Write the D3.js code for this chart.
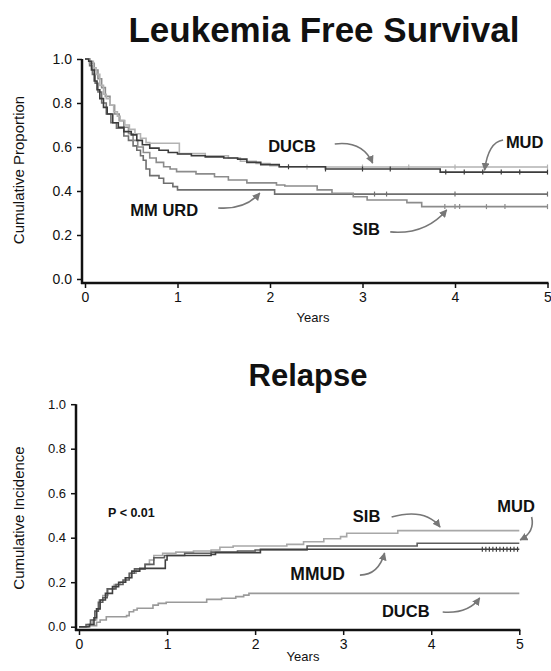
<!DOCTYPE html>
<html>
<head>
<meta charset="utf-8">
<script src="https://cdn.jsdelivr.net/npm/d3@7"></script>
<style>
    body { margin: 0; background: #fff; }
    svg text { font-family: "Liberation Sans", Arial, sans-serif; fill: #111; }
</style>
</head>
<body>
<div id="chart"></div>
<script>
//Datos - Leukemia Free Survival (años, proporción)
const lfsDUCB = [[0,1],[0.05,0.99],[0.09,0.96],[0.12,0.93],[0.16,0.88],[0.2,0.84],[0.23,0.82],[0.27,0.79],[0.31,0.76],[0.35,0.74],[0.38,0.72],[0.43,0.70],[0.48,0.68],[0.54,0.66],[0.6,0.64],[0.66,0.62],[0.7,0.617],[1.02,0.57],[1.3,0.56],[1.55,0.55],[1.68,0.535],[1.85,0.525],[2.0,0.515],[2.1,0.509]];
const lfsMUD = [[0,1],[0.04,0.99],[0.07,0.95],[0.1,0.9],[0.13,0.86],[0.16,0.82],[0.2,0.78],[0.24,0.75],[0.3,0.71],[0.36,0.69],[0.42,0.67],[0.5,0.655],[0.56,0.63],[0.62,0.61],[0.7,0.595],[0.8,0.585],[0.9,0.575],[1.0,0.568],[1.15,0.56],[1.3,0.555],[1.5,0.55],[1.65,0.545],[1.75,0.53],[1.9,0.52],[2.1,0.51],[2.6,0.5],[3.84,0.486]];
const lfsSIB = [[0,1],[0.05,0.98],[0.1,0.95],[0.14,0.91],[0.18,0.87],[0.22,0.83],[0.27,0.79],[0.32,0.75],[0.37,0.72],[0.42,0.69],[0.47,0.66],[0.52,0.63],[0.57,0.6],[0.63,0.575],[0.7,0.55],[0.77,0.53],[0.85,0.51],[0.92,0.5],[0.99,0.488],[1.2,0.478],[1.4,0.465],[1.55,0.45],[1.75,0.437],[2.07,0.427],[2.16,0.423],[2.51,0.405],[2.67,0.39],[2.9,0.374],[3.05,0.359],[3.48,0.347],[3.64,0.329]];
const lfsMMURD = [[0,1],[0.05,0.97],[0.08,0.93],[0.11,0.89],[0.14,0.85],[0.18,0.8],[0.23,0.75],[0.28,0.71],[0.34,0.685],[0.42,0.65],[0.47,0.63],[0.52,0.605],[0.56,0.585],[0.6,0.56],[0.63,0.54],[0.66,0.5],[0.7,0.47],[0.8,0.458],[0.85,0.435],[0.95,0.42],[1.0,0.405],[2.05,0.386]];

//Censuras
const lfsCensDUCB = [2.4, 3.0, 3.5, 4.0, 5.0];
const lfsCensMUD = [2.2, 2.6, 3.0, 3.3, 3.9, 4.1, 4.3, 4.5, 4.7, 5.0];
const lfsCensSIB = [3.89, 4.0, 4.05, 4.34, 4.54, 5.0];
const lfsCensMMURD = [3.13, 3.26, 4.0, 5.0];

//Datos - Relapse (años, incidencia acumulada)
const relSIB = [[0,0],[0.1,0.01],[0.15,0.03],[0.2,0.08],[0.23,0.12],[0.27,0.14],[0.33,0.17],[0.4,0.19],[0.47,0.2],[0.52,0.22],[0.58,0.24],[0.65,0.26],[0.75,0.28],[0.8,0.3],[0.85,0.32],[0.95,0.33],[1.1,0.335],[1.3,0.34],[1.5,0.345],[1.6,0.357],[1.75,0.363],[2.36,0.37],[2.55,0.382],[2.78,0.395],[2.97,0.405],[3.04,0.42],[3.62,0.432]];
const relMUD = [[0,0],[0.08,0.01],[0.13,0.03],[0.18,0.07],[0.22,0.11],[0.27,0.13],[0.32,0.17],[0.42,0.19],[0.5,0.21],[0.57,0.24],[0.63,0.26],[0.75,0.28],[0.85,0.31],[0.97,0.32],[1.2,0.33],[1.5,0.335],[1.8,0.34],[2.0,0.345],[2.59,0.363],[3.84,0.375]];
const relMMUD = [[0,0],[0.12,0.01],[0.17,0.04],[0.2,0.08],[0.24,0.12],[0.3,0.15],[0.38,0.18],[0.45,0.2],[0.53,0.22],[0.6,0.25],[0.69,0.262],[0.98,0.3],[1.0,0.32],[1.5,0.325],[1.55,0.333],[2.06,0.348]];
const relDUCB = [[0,0],[0.1,0.005],[0.2,0.02],[0.24,0.03],[0.31,0.045],[0.54,0.05],[0.57,0.067],[0.62,0.075],[0.66,0.083],[0.84,0.097],[0.9,0.105],[0.99,0.11],[1.45,0.123],[1.62,0.128],[1.78,0.135],[1.87,0.142],[1.93,0.15]];

const relCensMMUD = [4.58, 4.62, 4.66, 4.7, 4.74, 4.78, 4.82, 4.86, 4.9, 4.94, 4.98];

//Ejes
const xTicks = [0, 1, 2, 3, 4, 5];
const yTicks = [0, 0.2, 0.4, 0.6, 0.8, 1.0];

let svg = d3.select('#chart')
    .append('svg')
    .attr('width', 551)
    .attr('height', 671);

//Flecha
svg.append('defs').append('marker')
    .attr('id', 'arrow')
    .attr('viewBox', '0 0 10 10')
    .attr('refX', 9)
    .attr('refY', 5)
    .attr('markerWidth', 5)
    .attr('markerHeight', 5)
    .attr('orient', 'auto')
    .append('path')
    .attr('d', 'M0,0 L10,5 L0,10 Z')
    .attr('fill', '#777');

function drawPanel(cfg) {
    let x = d3.scaleLinear().domain([0, 5]).range(cfg.xRange);
    let y = d3.scaleLinear().domain([0, 1]).range(cfg.yRange);
    let g = svg.append('g');

    //Título
    g.append('text')
        .attr('x', cfg.titleX)
        .attr('y', cfg.titleY)
        .attr('text-anchor', 'middle')
        .style('font-size', cfg.titleSize)
        .style('font-weight', '700')
        .text(cfg.title);

    //Eje Y
    let yAxisG = g.append('g')
        .attr('transform', 'translate(' + cfg.yAxisX + ',0)')
        .call(d3.axisLeft(y).tickValues(yTicks).tickFormat(d3.format('.1f')).tickSize(5).tickSizeOuter(0));
    yAxisG.select('.domain').remove();
    yAxisG.selectAll('.tick line').attr('stroke', '#111').attr('stroke-width', 1.5);
    yAxisG.selectAll('.tick text')
        .attr('x', -10)
        .style('font-size', cfg.yTickSize)
        .style('font-family', '"Liberation Sans", Arial, sans-serif')
        .attr('fill', '#222');

    //Eje X
    let xAxisG = g.append('g')
        .attr('transform', 'translate(0,' + cfg.xAxisY + ')')
        .call(d3.axisBottom(x).tickValues(xTicks).tickFormat(d3.format('d')).tickSize(5).tickSizeOuter(0));
    xAxisG.select('.domain').remove();
    xAxisG.selectAll('.tick line').attr('stroke', '#111').attr('stroke-width', 1.5);
    xAxisG.selectAll('.tick text')
        .attr('y', 9)
        .style('font-size', '14px')
        .style('font-family', '"Liberation Sans", Arial, sans-serif')
        .attr('fill', '#222');

    //Líneas de ejes
    g.append('line')
        .attr('x1', cfg.yAxisX).attr('x2', cfg.yAxisX)
        .attr('y1', y(1)).attr('y2', cfg.xAxisY + 1)
        .attr('stroke', '#111').attr('stroke-width', 2.5);
    g.append('line')
        .attr('x1', cfg.yAxisX - 1).attr('x2', x(5) + 1)
        .attr('y1', cfg.xAxisY).attr('y2', cfg.xAxisY)
        .attr('stroke', '#111').attr('stroke-width', 2.5);

    //Títulos de ejes
    g.append('text')
        .attr('transform', 'translate(' + cfg.yTitleX + ',' + cfg.yTitleY + ') rotate(-90)')
        .attr('text-anchor', 'middle')
        .style('font-size', '15px')
        .attr('fill', '#333')
        .text(cfg.yTitle);
    g.append('text')
        .attr('x', cfg.xTitleX)
        .attr('y', cfg.xTitleY)
        .attr('text-anchor', 'middle')
        .style('font-size', '13px')
        .attr('fill', '#333')
        .text('Years');

    //Curvas escalonadas
    let line = d3.line()
        .x(function(d) { return x(d[0]); })
        .y(function(d) { return y(d[1]); })
        .curve(d3.curveStepAfter);

    cfg.series.forEach(function(s) {
        let pts = s.data.concat([[5, s.data[s.data.length - 1][1]]]);
        g.append('path')
            .datum(pts)
            .attr('fill', 'none')
            .attr('stroke', s.color)
            .attr('stroke-width', 1.6)
            .attr('d', line);

        //Censuras
        (s.cens || []).forEach(function(t) {
            let v = pts.filter(function(p) { return p[0] <= t; }).pop()[1];
            g.append('line')
                .attr('x1', x(t)).attr('x2', x(t))
                .attr('y1', y(v) - 2.5).attr('y2', y(v) + 2.5)
                .attr('stroke', s.color)
                .attr('stroke-width', 1.2);
        });
    });

    //Etiquetas con flechas
    cfg.labels.forEach(function(l) {
        g.append('text')
            .attr('x', x(l.t))
            .attr('y', y(l.v))
            .style('font-size', l.size || '16.5px')
            .style('font-weight', '700')
            .text(l.text);
        if (l.arrow) {
            let a = l.arrow;
            g.append('path')
                .attr('d', 'M' + x(a[0][0]) + ',' + y(a[0][1]) +
                    ' Q' + x(a[1][0]) + ',' + y(a[1][1]) +
                    ' ' + x(a[2][0]) + ',' + y(a[2][1]))
                .attr('fill', 'none')
                .attr('stroke', '#777')
                .attr('stroke-width', 1.6)
                .attr('marker-end', 'url(#arrow)');
        }
    });
}

//Panel superior
drawPanel({
    title: 'Leukemia Free Survival', titleX: 324, titleY: 42, titleSize: '35px',
    xRange: [85, 547.5], yRange: [279, 59],
    yAxisX: 82, xAxisY: 283, yTickSize: '14px',
    yTitle: 'Cumulative Proportion', yTitleX: 24, yTitleY: 170,
    xTitleX: 313, xTitleY: 322,
    series: [
        { data: lfsMMURD, color: '#6f6f6f', cens: lfsCensMMURD },
        { data: lfsSIB, color: '#8c8c8c', cens: lfsCensSIB },
        { data: lfsDUCB, color: '#b3b3b3', cens: lfsCensDUCB },
        { data: lfsMUD, color: '#3c3c3c', cens: lfsCensMUD }
    ],
    labels: [
        { text: 'DUCB', t: 1.98, v: 0.577, arrow: [[2.70, 0.614], [3.0, 0.63], [3.11, 0.527]] },
        { text: 'MUD', t: 4.55, v: 0.595, arrow: [[4.52, 0.632], [4.36, 0.623], [4.32, 0.495]] },
        { text: 'MM URD', t: 0.49, v: 0.286, arrow: [[1.44, 0.323], [1.73, 0.314], [1.89, 0.391]] },
        { text: 'SIB', t: 2.89, v: 0.2, arrow: [[3.30, 0.214], [3.68, 0.2], [3.91, 0.314]] }
    ]
});

//Panel inferior
drawPanel({
    title: 'Relapse', titleX: 308, titleY: 386, titleSize: '31px',
    xRange: [79, 519.3], yRange: [626.7, 404.2],
    yAxisX: 76, xAxisY: 630, yTickSize: '13px',
    yTitle: 'Cumulative Incidence', yTitleX: 24, yTitleY: 518,
    xTitleX: 303, xTitleY: 661,
    series: [
        { data: relDUCB, color: '#9a9a9a' },
        { data: relSIB, color: '#a8a8a8' },
        { data: relMUD, color: '#5e5e5e' },
        { data: relMMUD, color: '#3f3f3f', cens: relCensMMUD }
    ],
    labels: [
        { text: 'P < 0.01', t: 0.33, v: 0.493, size: '12.5px' },
        { text: 'SIB', t: 3.11, v: 0.47, arrow: [[3.55, 0.493], [3.93, 0.534], [4.10, 0.448]] },
        { text: 'MUD', t: 4.75, v: 0.516, arrow: [[5.14, 0.493], [5.18, 0.425], [5.01, 0.39]] },
        { text: 'MMUD', t: 2.40, v: 0.21, size: '17.5px', arrow: [[3.19, 0.232], [3.40, 0.232], [3.47, 0.331]] },
        { text: 'DUCB', t: 3.44, v: 0.044, arrow: [[4.13, 0.066], [4.42, 0.057], [4.55, 0.129]] }
    ]
});
</script>
</body>
</html>
